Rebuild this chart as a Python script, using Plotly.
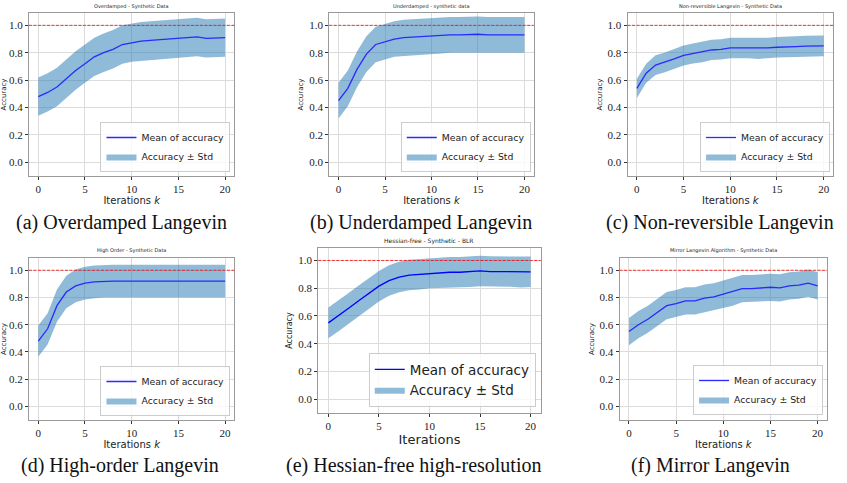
import plotly.graph_objects as go

iterations = list(range(21))

mean_a = [0.48, 0.51, 0.55, 0.61, 0.67, 0.72, 0.77, 0.80, 0.825, 0.86, 0.875, 0.885, 0.89, 0.895, 0.895, 0.905, 0.91, 0.915, 0.905, 0.91, 0.91]
std_a = [0.14, 0.14, 0.14, 0.14, 0.14, 0.14, 0.14, 0.14, 0.14, 0.14, 0.14, 0.14, 0.14, 0.14, 0.14, 0.14, 0.14, 0.14, 0.14, 0.14, 0.14]

mean_b = [0.45, 0.54, 0.68, 0.79, 0.86, 0.88, 0.90, 0.91, 0.915, 0.92, 0.92, 0.925, 0.93, 0.93, 0.935, 0.935, 0.93, 0.93, 0.93, 0.93, 0.93]
std_b = [0.13, 0.13, 0.13, 0.13, 0.13, 0.13, 0.13, 0.13, 0.13, 0.13, 0.13, 0.13, 0.13, 0.13, 0.13, 0.13, 0.13, 0.13, 0.13, 0.13, 0.13]

mean_c = [0.54, 0.65, 0.71, 0.73, 0.755, 0.78, 0.795, 0.805, 0.82, 0.825, 0.835, 0.835, 0.835, 0.83, 0.835, 0.84, 0.845, 0.845, 0.848, 0.848, 0.85]
std_c = [0.07, 0.07, 0.072, 0.072, 0.073, 0.073, 0.073, 0.074, 0.074, 0.074, 0.075, 0.075, 0.075, 0.075, 0.075, 0.075, 0.075, 0.075, 0.075, 0.075, 0.075]

mean_d = [0.48, 0.57, 0.74, 0.84, 0.885, 0.905, 0.915, 0.92, 0.92, 0.92, 0.92, 0.92, 0.92, 0.922, 0.922, 0.922, 0.925, 0.925, 0.925, 0.92, 0.92]
std_d = [0.115, 0.115, 0.118, 0.12, 0.12, 0.12, 0.12, 0.12, 0.12, 0.12, 0.12, 0.12, 0.12, 0.12, 0.12, 0.12, 0.12, 0.12, 0.12, 0.12, 0.12]

mean_e = [0.55, 0.60, 0.655, 0.71, 0.76, 0.815, 0.855, 0.88, 0.895, 0.90, 0.91, 0.91, 0.915, 0.915, 0.918, 0.925, 0.92, 0.92, 0.92, 0.915, 0.918]
std_e = [0.11, 0.11, 0.11, 0.11, 0.11, 0.11, 0.11, 0.11, 0.11, 0.11, 0.11, 0.11, 0.11, 0.11, 0.11, 0.11, 0.11, 0.11, 0.11, 0.11, 0.11]

mean_f = [0.55, 0.60, 0.64, 0.69, 0.74, 0.755, 0.775, 0.775, 0.795, 0.805, 0.825, 0.84, 0.865, 0.865, 0.87, 0.875, 0.87, 0.885, 0.89, 0.905, 0.885]
std_f = [0.10, 0.10, 0.10, 0.10, 0.10, 0.10, 0.10, 0.10, 0.10, 0.10, 0.10, 0.10, 0.10, 0.10, 0.10, 0.10, 0.10, 0.10, 0.10, 0.10, 0.10]

titles = ["Overdamped - Synthetic Data", "Underdamped - synthetic data", "Non-reversible Langevin - Synthetic Data",
          "High Order - Synthetic Data", "Hessian-free - Synthetic - BLR", "Mirror Langevin Algorithm - Synthetic Data"]
captions = ["(a) Overdamped Langevin", "(b) Underdamped Langevin", "(c) Non-reversible Langevin",
            "(d) High-order Langevin", "(e) Hessian-free high-resolution", "(f) Mirror Langevin"]
y_ticks = [0.0, 0.2, 0.4, 0.6, 0.8, 1.0]
x_ticks = [0, 5, 10, 15, 20]

means = [mean_a, mean_b, mean_c, mean_d, mean_e, mean_f]
stds = [std_a, std_b, std_c, std_d, std_e, std_f]

W, H = 847, 483
# panel frames in pixels: (left, right, top, bottom)
frames = [(27, 233, 13, 176), (328, 533, 13, 176), (627, 833, 13, 176),
          (27, 233, 258, 420), (317, 540, 248, 413), (619, 827, 258, 420)]
legend_pos = [(229, 172), (530, 172), (830, 172), (229, 416), (535, 407), (823, 415)]
caption_pos = [(120, 222), (420, 222), (720, 222), (118, 465), (412, 465), (710, 465)]

fig = go.Figure()
fill_color = "rgba(31,119,180,0.5)"
layout = dict(width=W, height=H, margin=dict(l=0, r=0, t=0, b=0),
              paper_bgcolor="white", plot_bgcolor="white", showlegend=True)
annotations = []
shapes = []
for i in range(6):
    n = i + 1
    xa = "x" if n == 1 else f"x{n}"
    ya = "y" if n == 1 else f"y{n}"
    lg = "legend" if n == 1 else f"legend{n}"
    big = (i == 4)
    upper = [m + s for m, s in zip(means[i], stds[i])]
    lower = [m - s for m, s in zip(means[i], stds[i])]
    fig.add_trace(go.Scatter(x=iterations + iterations[::-1], y=upper + lower[::-1],
                             fill="toself", fillcolor=fill_color, line=dict(width=0),
                             mode="lines", name="Accuracy ± Std", xaxis=xa, yaxis=ya,
                             legend=lg, legendrank=2, hoverinfo="skip"))
    fig.add_trace(go.Scatter(x=iterations, y=means[i], mode="lines",
                             line=dict(color="#2a2aff" if not big else "#0000ff", width=1.3),
                             name="Mean of accuracy", xaxis=xa, yaxis=ya, legend=lg, legendrank=1))
    l, r, t, b = frames[i]
    axcommon = dict(showgrid=True, gridcolor="#dcdcdc", gridwidth=1, showline=True,
                    linecolor="#9a9a9a", linewidth=1, mirror=True, ticks="outside",
                    ticklen=3, tickcolor="#333", zeroline=False,
                    tickfont=dict(family="Liberation Serif", size=11, color="#222"))
    key_x = "xaxis" if n == 1 else f"xaxis{n}"
    key_y = "yaxis" if n == 1 else f"yaxis{n}"
    layout[key_x] = dict(axcommon, domain=[l / W, r / W], anchor=ya, range=[-1.0, 21.0],
                         tickvals=x_ticks,
                         title=dict(text="Iterations" if big else "Iterations <i>k</i>",
                                    font=dict(family="DejaVu Sans", size=13 if big else 10, color="#222"),
                                    standoff=2))
    layout[key_y] = dict(axcommon, domain=[1 - b / H, 1 - t / H], anchor=xa, range=[-0.1, 1.09],
                         tickvals=y_ticks, tickformat=".1f",
                         title=dict(text="Accuracy", font=dict(family="DejaVu Sans", size=8 if big else 7, color="#222"),
                                    standoff=4))
    lx, lyb = legend_pos[i]
    layout[lg] = dict(x=lx / W, y=1 - lyb / H, xanchor="right", yanchor="bottom",
                      xref="paper", yref="paper",
                      bgcolor="rgba(255,255,255,0.8)", bordercolor="#cccccc", borderwidth=1,
                      font=dict(family="DejaVu Sans", size=13.5 if big else 9.3, color="#222"),
                      tracegroupgap=0, itemwidth=30)
    shapes.append(dict(type="line", xref=f"{xa} domain", x0=0, x1=1, yref=ya, y0=1.0, y1=1.0,
                       line=dict(color="red", width=0.8, dash="3px,1.5px")))
    ttl_y = (t - 7) if not big else 241
    annotations.append(dict(text=titles[i], x=(l + r) / 2 / W, y=1 - ttl_y / H, xref="paper", yref="paper",
                            showarrow=False, font=dict(family="DejaVu Sans", size=5 if not big else 6, color="#222"),
                            xanchor="center", yanchor="middle"))
    cx, cy = caption_pos[i]
    annotations.append(dict(text=captions[i], x=cx / W, y=1 - cy / H, xref="paper", yref="paper",
                            showarrow=False, font=dict(family="Liberation Serif", size=20, color="#111"),
                            xanchor="center", yanchor="middle"))

layout["annotations"] = annotations
layout["shapes"] = shapes
fig.update_layout(**layout)
fig.write_html("out.html")
